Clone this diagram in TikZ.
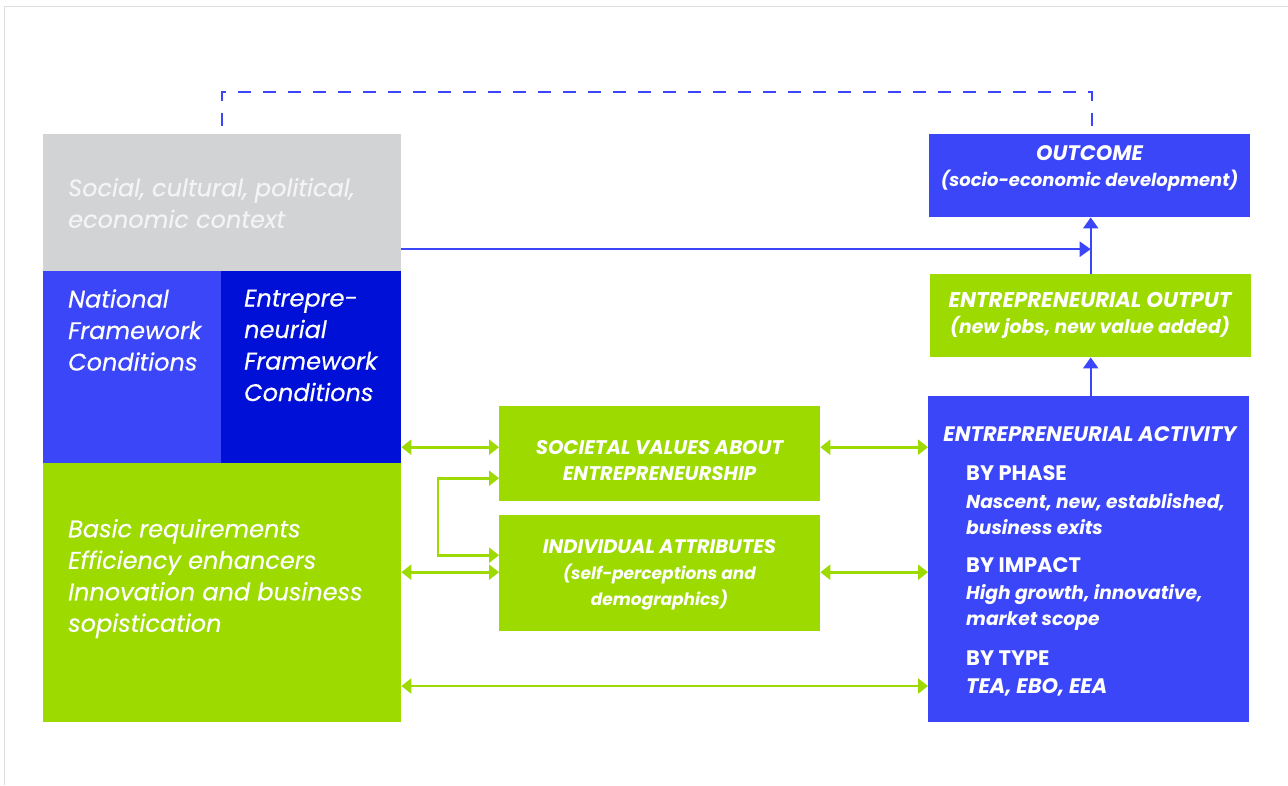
\documentclass[tikz,border=0pt]{standalone}
\usepackage{fontspec}
\setmainfont{Poppins}
\newfontfamily\medfont{Poppins}[FakeBold=0.35]
\usetikzlibrary{arrows.meta}
\definecolor{gemgray}{HTML}{D2D3D5}
\definecolor{gemblue}{HTML}{3A46F7}
\definecolor{gemnavy}{HTML}{0010D6}
\definecolor{gemgreen}{HTML}{9CDA00}
\definecolor{framegray}{HTML}{DCDCDC}
\definecolor{paletext}{HTML}{F4F4F4}
% size switch for a single text line
\newcommand\gemsize[1]{\fontsize{#1}{26}\selectfont}
\begin{document}
\begin{tikzpicture}[x=1pt,y=-1pt,
  box/.style={fill=#1, draw=none, inner sep=0pt, anchor=north west},
  lefttext/.style={text=white, inner sep=0pt, align=left, anchor=west},
  midtext/.style={text=white, inner sep=0pt, align=center},
  bigit/.style={font=\fontsize{24}{31.5}\selectfont\medfont\itshape},
  bfit/.style={font=\fontsize{19}{26}\selectfont\bfseries\itshape},
  headbf/.style={font=\fontsize{21}{26}\selectfont\bfseries},
  garrow/.style={gemgreen, line width=2.6pt, {Triangle[length=10pt,width=15pt]}-{Triangle[length=10pt,width=15pt]}},
  barrow/.style={gemblue, line width=2.2pt, -{Triangle[length=11pt,width=15pt]}},
]
\useasboundingbox (0,0) rectangle (1288,785);
\fill[white] (0,0) rectangle (1288,785);
% outer frame
\draw[framegray, line width=1.5pt] (4.5,785) -- (4.5,6.5) -- (1288,6.5);

% left column
\node[box=gemgray, minimum width=358pt, minimum height=137pt] (ctx) at (43,134) {};
\node[box=gemblue, minimum width=178pt, minimum height=192pt] (nfc) at (43,271) {};
\node[box=gemnavy, minimum width=180pt, minimum height=192pt] (efc) at (221,271) {};
\node[box=gemgreen, minimum width=358pt, minimum height=259pt] (req) at (43,463) {};

\node[lefttext, bigit, text=paletext] (ctxtext) at (68,203) {Social, cultural, political,\\economic context};
\node[lefttext, bigit] (nfctext) at (68,330) {National\\Framework\\Conditions};
\node[lefttext, bigit] (efctext) at (244,345.5) {Entrepre-\\neurial\\Framework\\Conditions};
\node[lefttext, bigit] (reqtext) at (68,578.5) {Basic requirements\\Efficiency enhancers\\Innovation and business\\sopistication};

% middle column
\node[box=gemgreen, minimum width=321pt, minimum height=95pt] (soc) at (499,406) {};
\node[box=gemgreen, minimum width=321pt, minimum height=116pt] (ind) at (499,515) {};
\node[midtext, bfit] (soctext) at (659.5,460.5)
  {\gemsize{19.7}SOCIETAL VALUES ABOUT\\\gemsize{19.7}ENTREPRENEURSHIP};
\node[midtext, bfit] (indtext) at (659.5,575)
  {\gemsize{19.5}INDIVIDUAL ATTRIBUTES\\\gemsize{17}(self-perceptions and\\\gemsize{17}demographics)};

% right column
\node[box=gemblue, minimum width=321pt, minimum height=83pt] (outc) at (929,134) {};
\node[box=gemgreen, minimum width=321pt, minimum height=83pt] (out) at (930,274) {};
\node[box=gemblue, minimum width=321pt, minimum height=326pt] (act) at (928,396) {};
\node[midtext, bfit] (outctext) at (1089.5,168.5)
  {\gemsize{21}OUTCOME\\\gemsize{18}(socio-economic development)};
\node[midtext, bfit] (outtext) at (1090,315.5)
  {\gemsize{21.3}ENTREPRENEURIAL OUTPUT\\\gemsize{18.8}(new jobs, new value added)};
\node[midtext, bfit] (acttitle) at (1090,434) {\gemsize{21}ENTREPRENEURIAL ACTIVITY};
\node[lefttext, headbf] (phase) at (966,473.5) {BY PHASE};
\node[lefttext, bfit] (phasetext) at (966,514)
  {\gemsize{18.7}Nascent, new, established,\\\gemsize{18.7}business exits};
\node[lefttext, headbf] (impact) at (966,565.5) {BY IMPACT};
\node[lefttext, bfit] (impacttext) at (966,607)
  {\gemsize{18.7}High growth, innovative,\\\gemsize{18.7}market scope};
\node[lefttext, headbf] (type) at (966,658.5) {BY TYPE};
\node[lefttext, bfit] (typetext) at (966,687) {\gemsize{21}TEA, EBO, EEA};

% feedback loop (dashed)
\draw[gemblue, line width=2pt, dash pattern=on 13pt off 12pt]
  ([xshift=1pt,yshift=8pt]nfc.east |- ctx.north) -- ++(0,-34) -| ([xshift=2.5pt,yshift=8pt]outc.north);

% blue flows
\coordinate (ctxout) at ([yshift=-46.5pt]ctx.east);
\draw[barrow] (ctxout) -- (ctxout -| out.north);
\draw[barrow] (out.north) -- (outc.south -| out.north);
\draw[barrow] (act.north -| out.south) -- (out.south);

% green two-way links
\coordinate (socrow) at ([yshift=6.5pt]soc.west);
\coordinate (indrow) at ([yshift=1pt]ind.west);
\coordinate (lowrow) at (0,686);
\draw[garrow] (efc.east |- socrow) -- (socrow);
\draw[garrow] (socrow -| soc.east) -- (socrow -| act.west);
\draw[garrow] (req.east |- indrow) -- (indrow);
\draw[garrow] (indrow -| ind.east) -- (indrow -| act.west);
\draw[garrow] (req.east |- lowrow) -- (lowrow -| act.west);
\draw[garrow] ([yshift=18pt]ind.west) -- ++(-61,0) |- ([yshift=-24.5pt]soc.west);
\end{tikzpicture}
\end{document}
